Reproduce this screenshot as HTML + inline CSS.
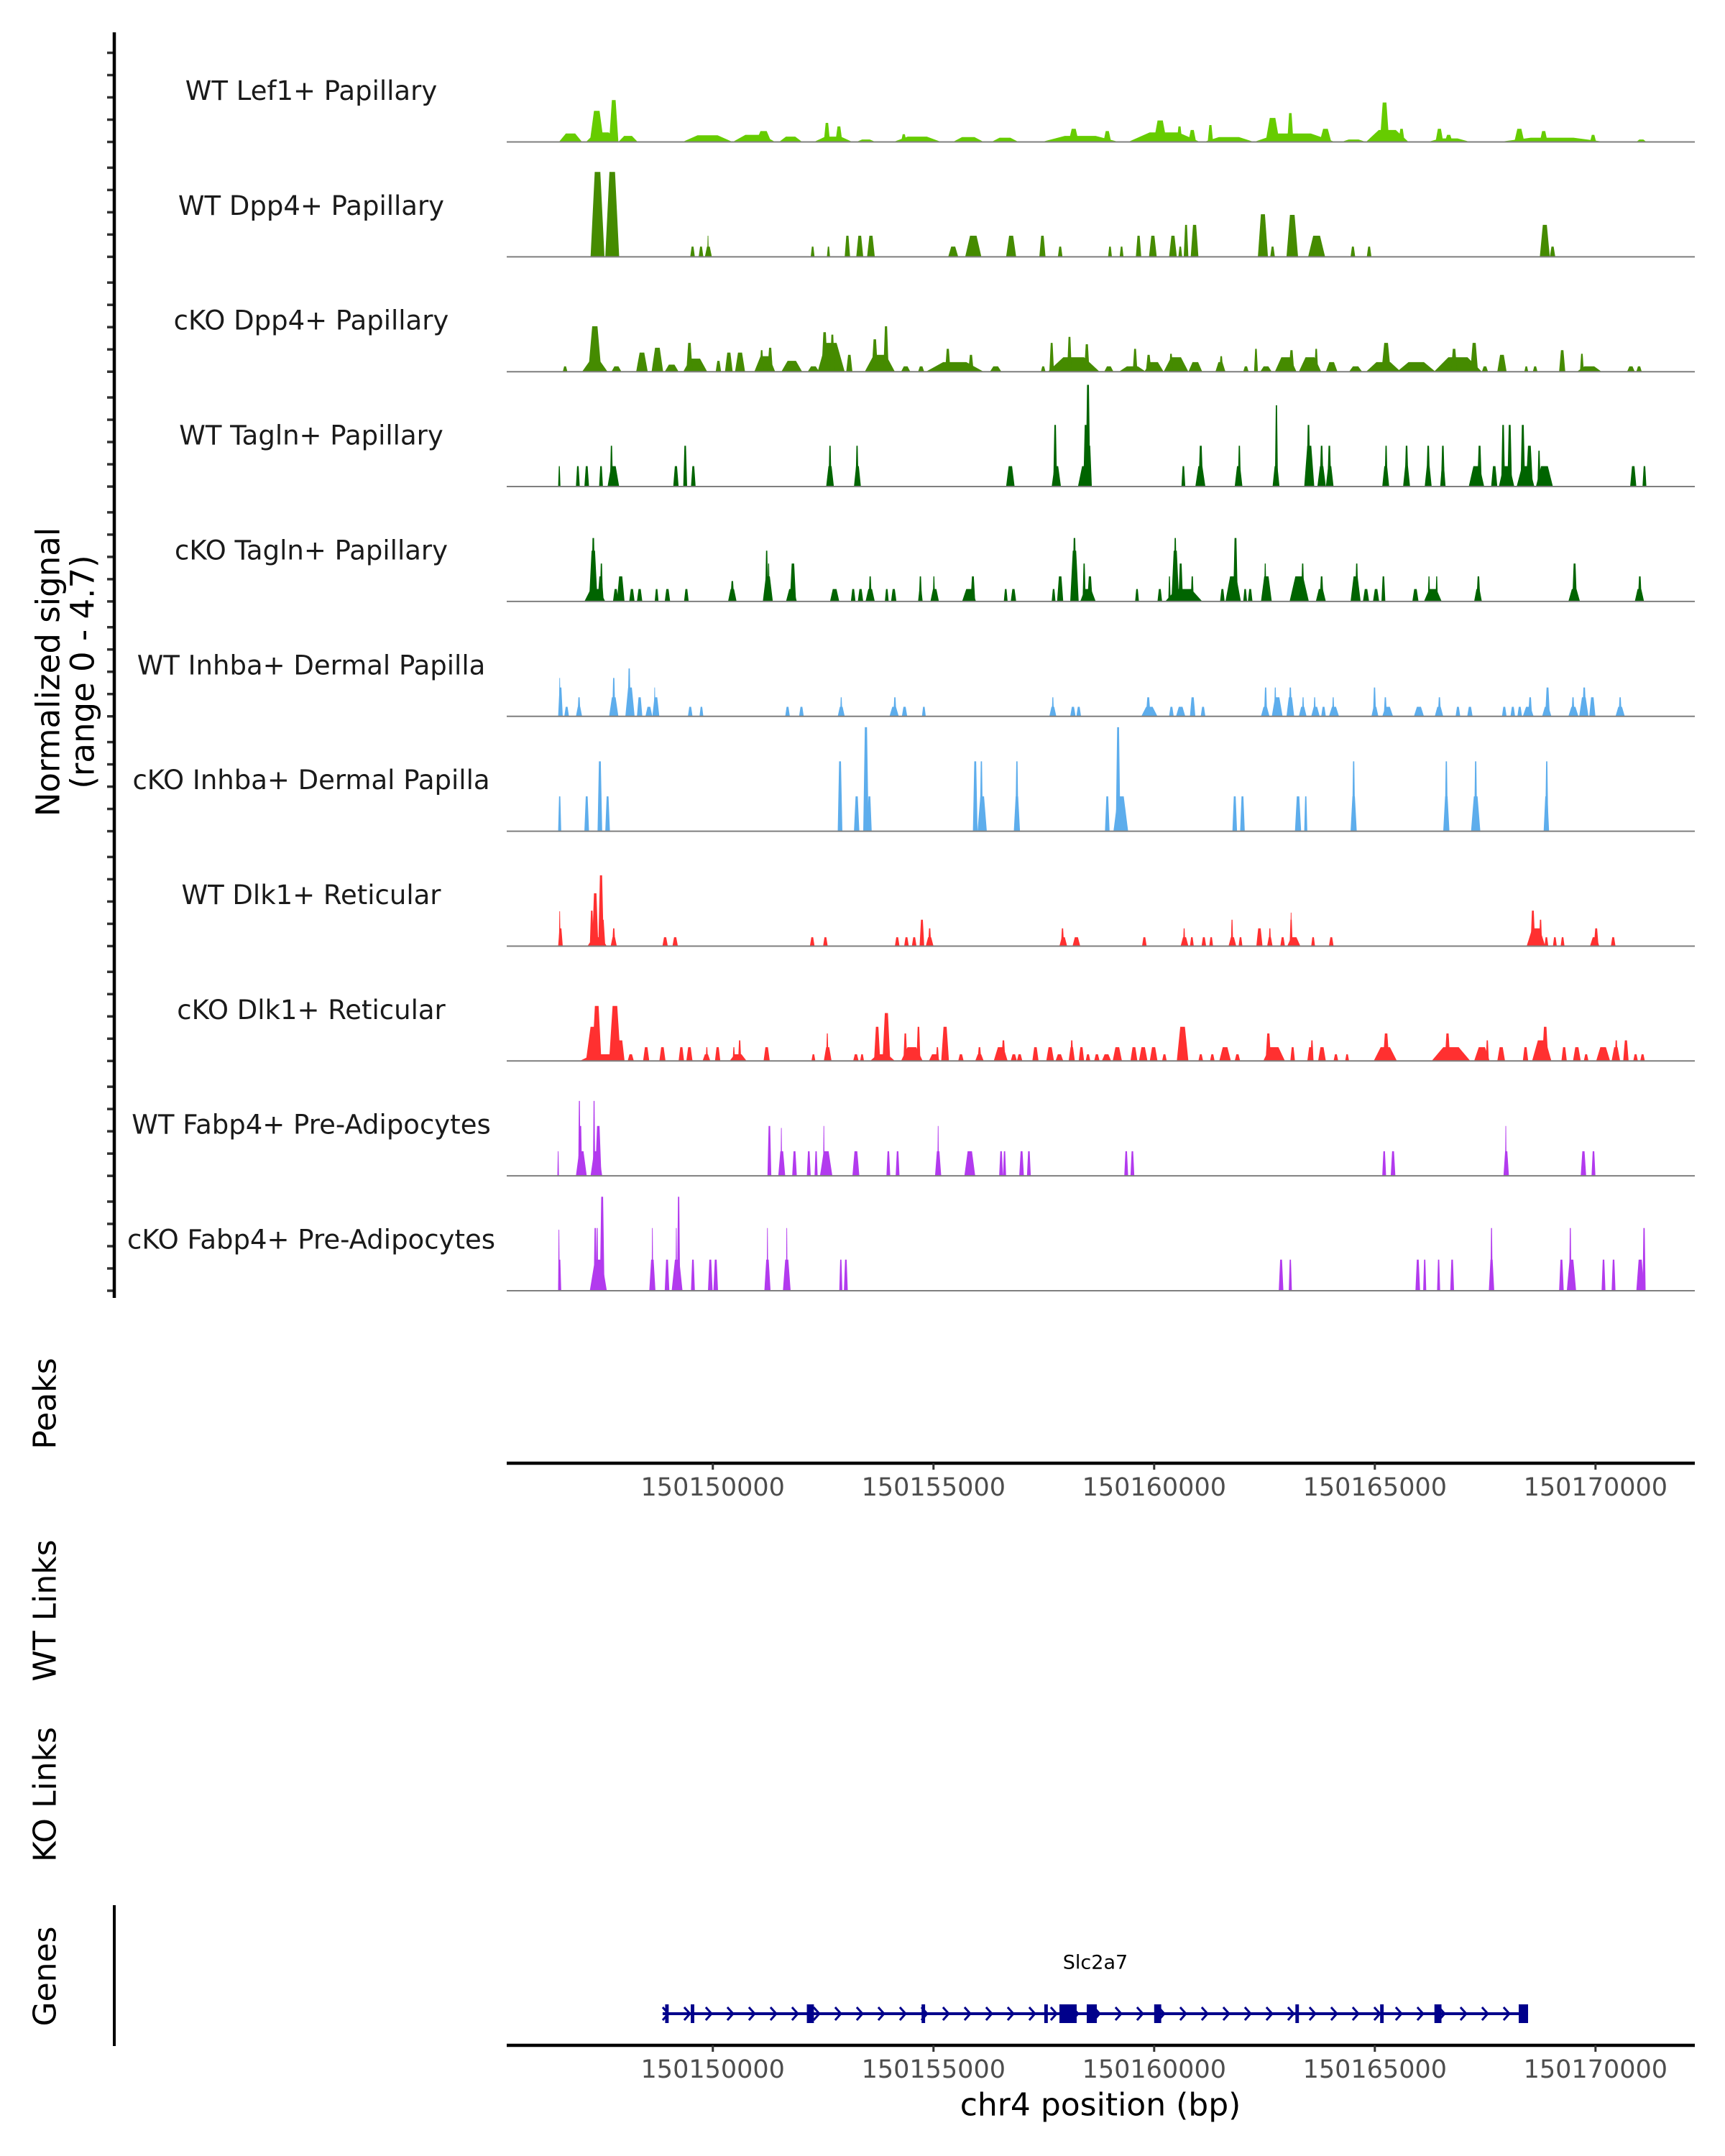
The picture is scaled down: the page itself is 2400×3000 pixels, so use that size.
<!DOCTYPE html>
<html><head><meta charset="utf-8"><title>Coverage tracks</title>
<style>
html,body{margin:0;padding:0;background:#fff;}
svg{display:block;font-family:"DejaVu Sans","Liberation Sans",sans-serif;}
</style></head>
<body>
<svg id="chart" width="2400" height="3000" viewBox="0 0 2400 3000" xmlns="http://www.w3.org/2000/svg">
  <rect width="2400" height="3000" fill="#fff"/>
  <g id="tracks"></g>
  <g id="labels"></g>
  <g id="yaxis"></g>
  <text transform="translate(67,935) rotate(-90)" text-anchor="middle" dominant-baseline="central" font-size="45" fill="#000">Normalized signal</text>
  <text transform="translate(115,935) rotate(-90)" text-anchor="middle" dominant-baseline="central" font-size="45" fill="#000">(range 0 - 4.7)</text>
  <text transform="translate(63,1953) rotate(-90)" text-anchor="middle" dominant-baseline="central" font-size="44" fill="#000">Peaks</text>
  <text transform="translate(63,2241) rotate(-90)" text-anchor="middle" dominant-baseline="central" font-size="44" fill="#000">WT Links</text>
  <text transform="translate(63,2497) rotate(-90)" text-anchor="middle" dominant-baseline="central" font-size="44" fill="#000">KO Links</text>
  <text transform="translate(63,2750) rotate(-90)" text-anchor="middle" dominant-baseline="central" font-size="44" fill="#000">Genes</text>
  <line x1="159" y1="2651" x2="159" y2="2847" stroke="#000" stroke-width="4"/>
  <g id="xaxes"></g>
  <g id="genes"></g>
  <text x="1531" y="2929" text-anchor="middle" dominant-baseline="central" font-size="44" fill="#000">chr4 position (bp)</text>
</svg>
<script>
// ---- data ----
const regionStart = 150145200;
const viewStart = 150145330;
const viewEnd = 150172250;
const signalMax = 4.7;
const trackNames = ["WT Lef1+ Papillary","WT Dpp4+ Papillary","cKO Dpp4+ Papillary","WT Tagln+ Papillary","cKO Tagln+ Papillary","WT Inhba+ Dermal Papilla","cKO Inhba+ Dermal Papilla","WT Dlk1+ Reticular","cKO Dlk1+ Reticular","WT Fabp4+ Pre-Adipocytes","cKO Fabp4+ Pre-Adipocytes"];
const trackColors = ["#66CC00","#458B00","#458B00","#006400","#006400","#5DADEC","#5DADEC","#FF3030","#FF3030","#B23AEE","#B23AEE"];
const xTicks = [150150000,150155000,150160000,150165000,150170000];
// peaks: [start offset bp from regionStart, end offset bp, signal]
const lef1WT = [[1313,1838,.38],[1925,2660,.43],[2013,2328,1.40],[2450,2660,1.89],[2660,3098,.27],[4113,5250,.30],[5250,6213,.32],[5775,6125,.49],[6300,6825,.24],[7088,7963,.24],[7315,7455,.86],[7578,7735,.70],[8050,8488,.11],[8890,9975,.24],[9065,9188,.35],[10238,10938,.22],[11113,11725,.19],[12250,14000,.27],[12863,13090,.59],[13650,13825,.49],[14210,15838,.43],[14788,15085,.97],[15313,15435,.70],[15575,15750,.54],[15925,17063,.22],[16013,16135,.76],[17063,18900,.38],[17325,17640,1.08],[17815,17955,1.30],[18550,18813,.59],[19040,19600,.11],[19600,20563,.54],[19915,20125,1.78],[20335,20475,.59],[21000,21963,.16],[21175,21350,.59],[21385,21560,.32],[22610,25025,.19],[22960,23188,.59],[23538,23713,.49],[24675,24815,.32],[25725,25953,.11]];
const dpp4WT = [[2030,2345,3.83],[2363,2678,3.83],[4288,4393,.46],[4480,4585,.46],[4620,4778,.46],[4673,4708,.95],[7018,7105,.46],[7385,7455,.46],[7788,7910,.95],[8050,8208,.95],[8295,8470,.95],[10133,10360,.46],[10518,10885,.95],[11445,11673,.95],[12198,12338,.95],[12618,12723,.46],[13755,13843,.46],[14018,14105,.46],[14385,14508,.95],[14683,14858,.95],[15138,15313,.95],[15348,15435,.46],[15470,15575,1.44],[15628,15803,1.44],[17150,17378,1.92],[17430,17535,.46],[17798,18060,1.89],[18288,18673,.95],[19250,19355,.46],[19618,19723,.46],[23538,23765,1.44],[23765,23888,.46]];
const dpp4KO = [[1400,1505,.24],[1838,2415,.49],[1978,2275,2.05],[2503,2730,.24],[3063,3325,.86],[3413,3675,1.08],[3710,4025,.32],[4130,4673,.59],[4200,4340,1.30],[4865,4988,.49],[5075,5250,.86],[5303,5530,.86],[5740,6213,.70],[5863,5950,.97],[6038,6160,1.08],[6353,6825,.49],[6948,7210,.24],[7175,7788,1.30],[7263,7403,1.78],[7455,7560,1.67],[7823,7963,.76],[8243,8925,.76],[8400,8540,1.46],[8663,8785,2.05],[9065,9275,.24],[9450,9590,.24],[9625,10938,.43],[10063,10185,1.03],[10588,10710,.76],[11078,11340,.24],[12233,12338,.24],[12390,13563,.65],[12425,12530,1.30],[12828,12933,1.57],[13213,13335,1.24],[13668,13878,.24],[14000,14613,.24],[14315,14420,1.03],[14578,15015,.43],[14613,14735,.76],[15015,15575,.65],[15138,15225,.81],[15575,15890,.43],[16188,16415,.43],[16275,16363,.70],[16818,16940,.24],[17063,17150,1.03],[17203,17465,.24],[17535,18025,.65],[17850,17973,.97],[18078,18585,.65],[18428,18515,1.03],[18690,18953,.43],[19215,19513,.24],[19600,20388,.43],[19950,20160,1.30],[20300,21175,.43],[21140,22225,.65],[21525,21665,1.03],[21963,22138,1.30],[22225,22365,.24],[22575,22785,.76],[23188,23275,.24],[23380,23485,.24],[23975,24115,.97],[24378,24938,.24],[24448,24535,.81],[25515,25690,.24],[25725,25848,.24]];
const taglnWT = [[1295,1348,.92],[1698,1785,.92],[1890,1995,.92],[2223,2310,.92],[2415,2678,.92],[2468,2538,1.84],[3903,4025,.92],[4130,4218,1.84],[4305,4410,.92],[7368,7543,.92],[7420,7490,1.84],[7998,8155,.92],[8033,8103,1.84],[11445,11638,.92],[12478,12688,.92],[12513,12600,2.78],[13073,13388,.92],[13195,13300,2.78],[13248,13353,4.59],[13265,13388,1.84],[15418,15505,.92],[15733,15960,.92],[15803,15908,1.84],[16625,16800,.92],[16695,16765,1.84],[17483,17640,.92],[17535,17605,3.67],[18200,18428,1.84],[18253,18340,2.78],[18498,18690,.92],[18550,18638,1.84],[18690,18865,.92],[18725,18813,1.84],[19968,20125,.92],[20020,20090,1.84],[20440,20598,.92],[20475,20563,1.84],[20930,21088,.92],[20965,21053,1.84],[21280,21403,.92],[21298,21385,1.84],[21928,22278,.92],[22120,22225,1.84],[22435,22575,.92],[22610,22960,.92],[22663,22750,2.78],[22803,22908,2.78],[23013,23415,.92],[23100,23205,2.78],[23223,23380,1.84],[23450,23835,.92],[23485,23555,1.62],[25585,25725,.92],[25865,25953,.92]];
const taglnKO = [[1890,2363,.56],[1995,2188,2.29],[2048,2135,2.86],[2188,2328,1.13],[2240,2310,1.71],[2538,2660,.56],[2625,2800,1.13],[2905,3028,.56],[3080,3203,.56],[3483,3570,.56],[3710,3833,.56],[4148,4253,.56],[5145,5338,.56],[5198,5285,.92],[5933,6160,1.13],[5985,6055,2.29],[6038,6090,1.71],[6458,6703,.56],[6545,6685,1.71],[7455,7665,.56],[7928,8033,.56],[8085,8208,.56],[8260,8470,.56],[8330,8400,1.13],[8698,8785,.56],[8838,8960,.56],[9450,9555,.56],[9468,9538,1.13],[9730,9923,.56],[9783,9835,1.13],[10448,10763,.56],[10640,10745,1.13],[11393,11480,.56],[11550,11673,.56],[12478,12565,.56],[12600,12740,1.13],[12898,13090,2.29],[12950,13038,2.86],[13125,13475,.56],[13178,13248,1.71],[13283,13405,1.13],[14368,14455,.56],[14875,14980,.56],[15050,15890,.56],[15120,15173,1.13],[15190,15365,2.29],[15243,15313,2.86],[15348,15453,1.71],[15628,15698,1.13],[16293,16398,.56],[16415,16765,1.13],[16590,16695,2.86],[16818,16905,.56],[16923,17028,.56],[17220,17465,1.13],[17290,17343,1.71],[17868,18305,1.13],[18130,18200,1.71],[18463,18690,.56],[18550,18638,1.13],[19250,19478,1.13],[19355,19425,1.71],[19530,19670,.56],[19758,19898,.56],[19950,20038,1.13],[20650,20790,.56],[20913,21315,.56],[21000,21053,1.13],[21175,21228,1.13],[22050,22225,.56],[22103,22190,1.13],[24185,24448,.56],[24273,24378,1.71],[25690,25900,.56],[25760,25848,1.13]];
const inhbaWT = [[1295,1400,1.30],[1313,1348,1.73],[1435,1540,.43],[1698,1838,.43],[1733,1803,.86],[2450,2660,.86],[2520,2590,1.73],[2818,3028,1.30],[2870,2940,2.16],[3080,3203,.86],[3273,3430,.43],[3430,3588,.86],[3465,3500,1.30],[4235,4340,.43],[4498,4585,.43],[6440,6545,.43],[6755,6860,.43],[7630,7788,.43],[7683,7735,.86],[8803,9013,.43],[8890,8960,.86],[9083,9205,.43],[9538,9625,.43],[12425,12583,.43],[12478,12530,.86],[12898,13020,.43],[13038,13143,.43],[14508,14875,.43],[14613,14718,.86],[15138,15243,.43],[15295,15505,.43],[15610,15733,.86],[15855,15960,.43],[17220,17413,.43],[17290,17360,1.30],[17465,17710,.86],[17518,17570,1.30],[17798,17973,.86],[17850,17920,1.30],[18078,18253,.43],[18148,18200,.86],[18358,18550,.43],[18410,18463,.86],[18585,18690,.43],[18760,18988,.43],[18830,18883,.86],[19723,19880,.43],[19758,19828,1.30],[19968,20213,.43],[20003,20073,.86],[20685,20913,.43],[21158,21350,.43],[21228,21298,.86],[21630,21735,.43],[21893,22015,.43],[22680,22785,.43],[22873,22978,.43],[23030,23135,.43],[23153,23398,.43],[23275,23363,.86],[23590,23800,.43],[23660,23765,1.30],[24185,24413,.43],[24255,24325,.86],[24430,24640,.86],[24500,24588,1.30],[24658,24798,.86],[25253,25463,.43],[25323,25393,.86]];
const inhbaKO = [[1295,1365,1.57],[1890,1995,1.57],[2188,2293,3.15],[2363,2468,1.57],[7630,7735,3.15],[7998,8120,1.57],[8208,8330,4.69],[8295,8400,1.57],[10693,10798,3.15],[10798,11008,1.57],[10850,10920,3.15],[11620,11760,1.57],[11655,11725,3.15],[13685,13790,1.57],[13878,14210,1.57],[13930,14035,4.69],[16573,16678,1.57],[16748,16853,1.57],[17990,18130,1.57],[18200,18270,1.57],[19250,19390,1.57],[19285,19355,3.15],[21350,21490,1.57],[21385,21455,3.15],[21980,22190,1.57],[22050,22120,3.15],[23625,23748,1.57],[23660,23730,3.15]];
const dlk1WT = [[1295,1400,.80],[1313,1348,1.57],[1960,2398,.40],[2013,2100,1.60],[2065,2205,2.38],[2205,2328,3.19],[2240,2363,1.19],[2485,2625,.40],[2520,2590,.80],[3658,3780,.40],[3885,4008,.40],[7000,7105,.40],[7298,7403,.40],[8925,9030,.40],[9135,9240,.40],[9310,9415,.40],[9485,9590,1.19],[9625,9800,.40],[9678,9748,.80],[12653,12828,.40],[12688,12758,.80],[12950,13125,.40],[14525,14630,.40],[15400,15575,.40],[15453,15505,.80],[15610,15698,.40],[15873,15978,.40],[16048,16135,.40],[16485,16660,.40],[16538,16590,1.19],[16713,16800,.40],[17115,17255,.80],[17360,17483,.40],[17395,17448,.80],[17658,17763,.40],[17815,18113,.40],[17868,17938,1.19],[17885,17920,1.51],[18358,18445,.40],[18760,18865,.40],[23240,23660,.80],[23328,23433,1.60],[23520,23590,1.19],[23643,23730,.40],[23835,23923,.40],[24010,24098,.40],[24675,24885,.40],[24763,24868,.80],[25148,25253,.40]];
const dlk1KO = [[1785,2800,.30],[1925,2275,1.54],[2065,2275,2.48],[2450,2713,2.48],[2625,2800,.93],[2870,3010,.30],[3220,3360,.62],[3588,3728,.62],[4025,4148,.62],[4200,4340,.62],[4568,4743,.30],[4638,4690,.62],[4848,4970,.62],[5180,5565,.30],[5250,5303,.62],[5373,5443,.93],[5950,6090,.62],[7035,7123,.30],[7315,7490,.62],[7368,7420,1.24],[7980,8103,.30],[8138,8225,.30],[8365,8925,.30],[8453,8593,1.54],[8645,8820,2.16],[9065,9555,.62],[9118,9205,1.24],[9415,9503,1.54],[9695,9940,.30],[9853,9923,.62],[9975,10150,1.54],[10360,10483,.30],[10745,10938,.30],[10798,10885,.62],[11165,11480,.62],[11340,11428,.93],[11550,11690,.30],[11690,11813,.30],[12040,12180,.62],[12355,12530,.62],[12565,12740,.30],[12863,13003,.62],[12898,12968,.93],[13090,13213,.62],[13248,13353,.30],[13440,13563,.30],[13615,13825,.30],[13860,14070,.62],[14263,14420,.62],[14455,14648,.62],[14700,14875,.62],[14980,15085,.30],[15313,15575,1.54],[15803,15908,.30],[16065,16170,.30],[16275,16538,.62],[16625,16748,.30],[17273,17763,.62],[17325,17448,1.24],[17885,17990,.62],[18270,18410,.62],[18340,18410,.93],[18515,18690,.62],[18865,18970,.30],[19128,19215,.30],[19775,20300,.62],[19985,20125,1.24],[21088,21963,.62],[21385,21508,1.24],[22050,22400,.62],[22313,22383,.93],[22575,22750,.62],[23153,23275,.62],[23363,23800,.93],[23590,23730,1.54],[24028,24150,.62],[24290,24465,.62],[24535,24640,.30],[24815,25130,.62],[25165,25358,.62],[25235,25305,.93],[25428,25550,.93],[25655,25760,.30],[25813,25918,.30]];
const fabp4WT = [[1278,1313,1.11],[1698,1943,1.11],[1750,1803,3.38],[1768,1838,2.25],[2030,2293,1.11],[2083,2135,3.38],[2135,2275,2.25],[6038,6125,2.25],[6283,6440,1.11],[6335,6370,2.16],[6598,6703,1.11],[6930,7018,1.11],[7105,7175,1.11],[7228,7508,1.11],[7298,7333,2.25],[7963,8120,1.11],[8733,8820,1.11],[8943,9030,1.11],[9835,9975,1.11],[9888,9923,2.25],[10500,10745,1.11],[11288,11375,1.11],[11375,11445,1.11],[11743,11848,1.11],[11918,12005,1.11],[14123,14210,1.11],[14263,14350,1.11],[19968,20055,1.11],[20160,20265,1.11],[22715,22838,1.11],[22750,22785,2.25],[24465,24588,1.11],[24710,24798,1.11]];
const fabp4KO = [[1295,1365,1.40],[1295,1330,2.75],[2013,2398,1.40],[2100,2170,2.83],[2153,2205,2.83],[2240,2345,4.24],[3360,3500,1.40],[3413,3448,2.83],[3710,3815,1.40],[3868,4113,1.40],[3990,4060,4.24],[3955,3990,2.83],[4305,4393,1.40],[4690,4795,1.40],[4813,4918,1.40],[5968,6108,1.40],[6020,6055,2.83],[6388,6563,1.40],[6458,6493,2.83],[7665,7735,1.40],[7770,7858,1.40],[17623,17728,1.40],[17850,17920,1.40],[20720,20825,1.40],[20895,20965,1.40],[21210,21280,1.40],[21508,21595,1.40],[22383,22505,1.40],[22418,22470,2.83],[23975,24080,1.40],[24150,24360,1.40],[24203,24255,2.83],[24938,25025,1.40],[25165,25253,1.40],[25725,25900,1.40],[25865,25935,2.83]];
const trackData = [lef1WT,dpp4WT,dpp4KO,taglnWT,taglnKO,inhbaWT,inhbaKO,dlk1WT,dlk1KO,fabp4WT,fabp4KO];
// gene model (bp)
const geneName = "Slc2a7";
const geneStart = 150148863;
const geneEnd = 150168472;
const exonStarts = [150148920,150149500,150152130,150154730,150157510,150157853,150158472,150160000,150163200,150165120,150166350,150168260];
const exonEnds =   [150149000,150149580,150152290,150154810,150157590,150158244,150158700,150160160,150163280,150165200,150166510,150168472];

// ---- layout ----
const NS = "http://www.w3.org/2000/svg";
const plotLeft = 705, plotRight = 2358;
const trackBase0 = 197.5, trackStep = 159.85, trackMaxPx = 145;
function xScale(bp){ return plotLeft + (bp - viewStart) / (viewEnd - viewStart) * (plotRight - plotLeft); }
function yScale(v, base){ return base - v / signalMax * trackMaxPx; }
function mk(tag, attrs, parent){ const e = document.createElementNS(NS, tag); for (const k in attrs) e.setAttribute(k, attrs[k]); parent.appendChild(e); return e; }

const gT = document.getElementById('tracks');
const gL = document.getElementById('labels');
const gY = document.getElementById('yaxis');
trackData.forEach((peaks, i) => {
  const base = trackBase0 + i * trackStep;
  const g = mk('g', {}, gT);
  
  
  peaks.forEach(p => {
    const x0 = xScale(regionStart + p[0]), x1 = xScale(regionStart + p[1]);
    const w = x1 - x0, yt = yScale(p[2], base);
    const poly = mk('polygon', {points: `${x0},${base} ${x0 + w*0.3},${yt} ${x1 - w*0.3},${yt} ${x1},${base}`, fill: trackColors[i]}, g);
    
    
  });
  const bl = mk('line', {x1: plotLeft, x2: plotRight, y1: base, y2: base, stroke: '#7f7f7f', 'stroke-width': 2}, g);
  
  
  const t = mk('text', {x: 433, y: base - 71, 'text-anchor': 'middle', 'dominant-baseline': 'central', 'font-size': 37, fill: '#1a1a1a'}, gL);
  t.textContent = trackNames[i];
  
  
  for (let k = 0; k < 5; k++) {
    const ty = base - k * 31;
    const tk = mk('line', {x1: 149, x2: 159, y1: ty, y2: ty, stroke: '#333', 'stroke-width': 3.5}, gY);
    
    
  }
});
const ya = mk('line', {x1: 159, x2: 159, y1: 45, y2: 1806, stroke: '#000', 'stroke-width': 4.5}, gY);



// x axes
const gX = document.getElementById('xaxes');
[2036, 2846].forEach((ay, j) => {
  const ln = mk('line', {x1: plotLeft, x2: plotRight, y1: ay, y2: ay, stroke: '#000', 'stroke-width': 4.5}, gX);
  
  
  xTicks.forEach(v => {
    const x = xScale(v);
    const tk = mk('line', {x1: x, x2: x, y1: ay, y2: ay + 9, stroke: '#333', 'stroke-width': 3}, gX);
    
    
    const tl = mk('text', {x: x, y: ay + 34, 'text-anchor': 'middle', 'dominant-baseline': 'central', 'font-size': 35, fill: '#4d4d4d'}, gX);
    tl.textContent = String(v);
    
    
  });
});

// gene
const gG = document.getElementById('genes');
const gy = 2802;
const gl = mk('line', {x1: xScale(geneStart), x2: xScale(geneEnd), y1: gy, y2: gy, stroke: '#00008B', 'stroke-width': 4}, gG);


for (let x = xScale(geneStart) + 4; x < xScale(geneEnd) - 6; x += 30) {
  const ch = mk('polyline', {points: `${x-4},${gy-9} ${x+4},${gy} ${x-4},${gy+9}`, fill: 'none', stroke: '#00008B', 'stroke-width': 3}, gG);
  
  
}
exonStarts.forEach((s, i) => {
  const x0 = xScale(s), x1 = xScale(exonEnds[i]);
  const r = mk('rect', {x: x0, y: gy - 13, width: Math.max(x1 - x0, 4), height: 26, fill: '#00008B'}, gG);
  
  
});
const gn = mk('text', {x: xScale((geneStart + geneEnd) / 2), y: 2731, 'text-anchor': 'middle', 'dominant-baseline': 'central', 'font-size': 27, fill: '#000'}, gG);
gn.textContent = geneName;


</script>
</body></html>
